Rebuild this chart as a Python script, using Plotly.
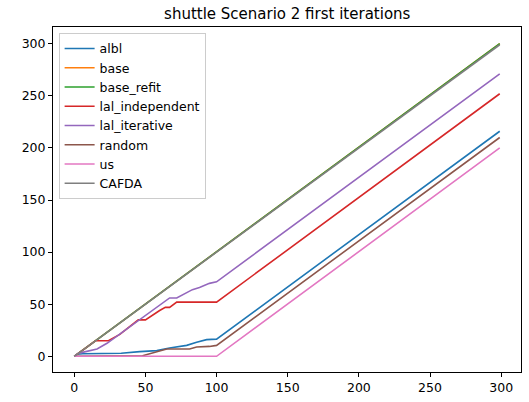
import plotly.graph_objects as go

# Vertices of each series (iteration, value)
albl_x = [0, 2, 6, 25, 33, 46, 52, 58, 67, 73, 79, 86, 93, 100, 299]
albl_y = [0, 2, 2.5, 3, 3, 4.5, 5, 5.5, 8, 9, 10.5, 13.5, 16, 16.5, 216]

base_x = [0, 299]
base_y = [0, 300]

base_refit_x = [0, 299]
base_refit_y = [0, 300]

lal_independent_x = [0, 15, 24, 32, 45, 50, 60, 64, 67, 72, 100, 299]
lal_independent_y = [0, 15, 15, 21, 35, 35, 44, 47, 47, 52, 52, 252]

lal_iterative_x = [0, 3, 6.5, 16, 23, 67, 72, 79, 83, 88, 95, 100, 299]
lal_iterative_y = [0, 3, 4, 7, 12.5, 56, 56, 61.5, 64, 66, 70, 71.5, 271]

random_x = [0, 48, 65, 81, 86, 95, 100, 299]
random_y = [0, 0.5, 7, 7, 9, 9.5, 10.5, 210]

us_x = [0, 100, 299]
us_y = [0, 0, 200]

cafda_x = [0, 299]
cafda_y = [0, 299]

series_names = ["albl", "base", "base_refit", "lal_independent",
                "lal_iterative", "random", "us", "CAFDA"]
series = [(albl_x, albl_y), (base_x, base_y), (base_refit_x, base_refit_y),
          (lal_independent_x, lal_independent_y), (lal_iterative_x, lal_iterative_y),
          (random_x, random_y), (us_x, us_y), (cafda_x, cafda_y)]
colors = ["#1f77b4", "#ff7f0e", "#2ca02c", "#d62728",
          "#9467bd", "#8c564b", "#e377c2", "#7f7f7f"]

x_ticks = [0, 50, 100, 150, 200, 250, 300]
y_ticks = [0, 50, 100, 150, 200, 250, 300]

fig = go.Figure()
for name, (xs, ys), c in zip(series_names, series, colors):
    fig.add_trace(go.Scatter(x=xs, y=ys, mode="lines", name=name,
                             line=dict(color=c, width=1.6)))

font = "DejaVu Sans"
fig.update_layout(
    width=529, height=402,
    margin=dict(l=53, r=7, t=27, b=26),
    paper_bgcolor="white", plot_bgcolor="white",
    title=dict(text="shuttle Scenario 2 first iterations", x=0.543, xanchor="center",
               y=0.965, yanchor="middle",
               font=dict(family=font, size=15, color="black")),
    font=dict(family=font, size=12.5, color="black"),
    showlegend=True,
    legend=dict(x=0.012, y=0.983, xanchor="left", yanchor="top",
                bgcolor="rgba(255,255,255,0.8)", bordercolor="#cccccc", borderwidth=1,
                font=dict(family=font, size=12.5), tracegroupgap=0,
                itemwidth=30),
)
fig.update_xaxes(range=[-14.95, 313.95], tickvals=x_ticks, ticks="outside", ticklen=4,
                 tickcolor="black", showline=True, linecolor="black", linewidth=1,
                 mirror=True, showgrid=False, zeroline=False,
                 tickfont=dict(family=font, size=12.5, color="black"))
fig.update_yaxes(range=[-15.05, 316.05], tickvals=y_ticks, ticks="outside", ticklen=4,
                 tickcolor="black", showline=True, linecolor="black", linewidth=1,
                 mirror=True, showgrid=False, zeroline=False,
                 tickfont=dict(family=font, size=12.5, color="black"))

fig.write_html("out.html", config={"displayModeBar": False},
               post_script="document.body.style.margin='0';document.body.style.overflow='hidden';")
